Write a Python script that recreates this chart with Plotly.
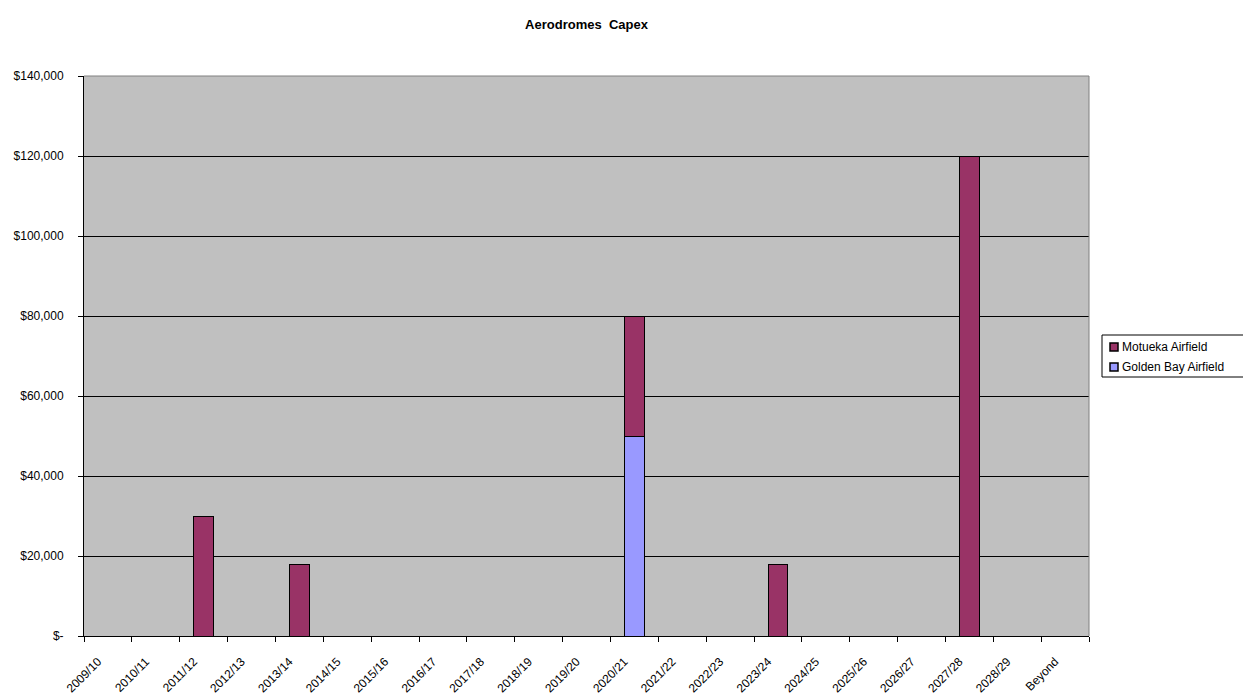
import plotly.graph_objects as go

categories = ["2009/10", "2010/11", "2011/12", "2012/13", "2013/14", "2014/15", "2015/16",
              "2016/17", "2017/18", "2018/19", "2019/20", "2020/21", "2021/22", "2022/23",
              "2023/24", "2024/25", "2025/26", "2026/27", "2027/28", "2028/29", "Beyond"]
golden_bay = [0, 0, 0, 0, 0, 0, 0, 0, 0, 0, 0, 50000, 0, 0, 0, 0, 0, 0, 0, 0, 0]
motueka = [0, 0, 30000, 0, 18000, 0, 0, 0, 0, 0, 0, 30000, 0, 0, 18000, 0, 0, 0, 120000, 0, 0]
y_ticks = [0, 20000, 40000, 60000, 80000, 100000, 120000, 140000]
y_tick_labels = ["$-", "$20,000", "$40,000", "$60,000", "$80,000", "$100,000", "$120,000", "$140,000"]

series = [("Golden Bay Airfield", golden_bay, "#9999FF"),
          ("Motueka Airfield", motueka, "#993366")]

font = "Liberation Sans, Arial, sans-serif"
W, H = 1243, 695
L, R, T, B = 84, 1089, 76, 636  # plot area in pixels


def px(x):
    return (x - L) / (R - L)


def py(y):
    return (B - y) / (B - T)


fig = go.Figure()
for name, vals, color in series:
    fig.add_trace(go.Bar(x=categories, y=[v if v else None for v in vals], name=name,
                         marker=dict(color=color, line=dict(color="black", width=1))))

fig.update_layout(
    barmode="stack",
    bargap=0.59,
    width=W, height=H,
    margin=dict(l=L, r=W - R, t=T, b=H - B, autoexpand=False),
    paper_bgcolor="white",
    plot_bgcolor="#C0C0C0",
    font=dict(family=font, size=12, color="black"),
    title=dict(text="<b>Aerodromes  Capex</b>", x=0.5, xref="paper", xanchor="center",
               y=1 - 24 / H, yref="container", yanchor="middle", font=dict(size=13)),
    showlegend=False,
)
fig.update_xaxes(type="category", tickson="boundaries", ticks="outside", ticklen=5,
                 tickcolor="black", showline=True, linecolor="black", linewidth=1,
                 tickangle=-45, showgrid=False, tickfont=dict(size=12),
                 ticklabelstandoff=13, ticklabelshift=-10)
fig.update_yaxes(range=[0, 140000], tickvals=y_ticks, ticktext=y_tick_labels,
                 ticks="outside", ticklen=5, tickcolor="black", showline=True,
                 linecolor="black", linewidth=1, showgrid=True, gridcolor="black",
                 gridwidth=1, zeroline=False, tickfont=dict(size=12), ticklabelstandoff=12)
# gray top and right frame edges
fig.add_shape(type="line", xref="paper", yref="paper", x0=0, x1=1, y0=1, y1=1,
              line=dict(color="#808080", width=1), layer="above")
fig.add_shape(type="line", xref="paper", yref="paper", x0=1, x1=1, y0=0, y1=1,
              line=dict(color="#808080", width=1), layer="above")

# manual legend (Motueka first, then Golden Bay)
fig.add_shape(type="rect", xref="paper", yref="paper", x0=px(1102), x1=px(1260),
              y0=py(377), y1=py(335), line=dict(color="black", width=1), fillcolor="white",
              layer="above")
for i, (name, vals, color) in enumerate(reversed(series)):
    cy = 347 + 20 * i
    fig.add_shape(type="rect", xref="paper", yref="paper", x0=px(1110), x1=px(1118),
                  y0=py(cy + 4), y1=py(cy - 4), line=dict(color="black", width=1.5),
                  fillcolor=color, layer="above")
    fig.add_annotation(text=name, xref="paper", yref="paper", x=px(1120), y=py(cy),
                       xanchor="left", yanchor="middle", showarrow=False,
                       font=dict(size=12, family=font))

fig.write_html("out.html")
